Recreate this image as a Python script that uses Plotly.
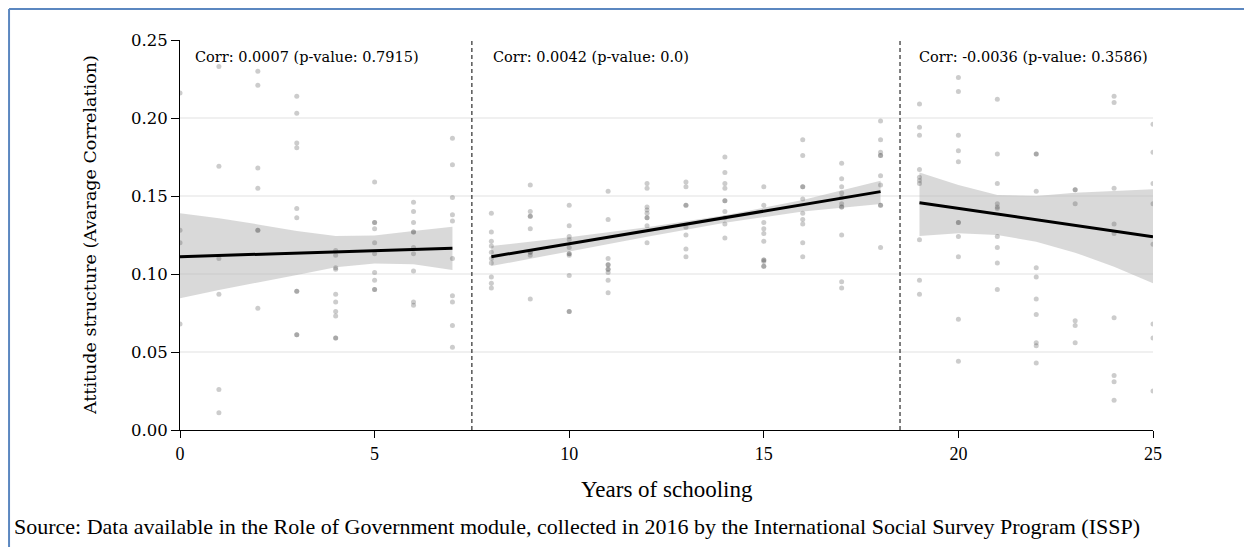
import plotly.graph_objects as go

# ---- scatter data: attitude structure per year of schooling ----
Y00 = [0.216, 0.128, 0.120, 0.068]
Y01 = [0.233, 0.169, 0.110, 0.087, 0.026, 0.011]
Y02 = [0.230, 0.221, 0.168, 0.155, 0.128, 0.128, 0.078]
Y03 = [0.214, 0.203, 0.184, 0.181, 0.142, 0.136, 0.089, 0.089, 0.061, 0.061]
Y04 = [0.115, 0.112, 0.104, 0.103, 0.087, 0.082, 0.076, 0.073, 0.059, 0.059]
Y05 = [0.159, 0.133, 0.133, 0.129, 0.120, 0.113, 0.101, 0.096, 0.090, 0.090]
Y06 = [0.146, 0.140, 0.133, 0.127, 0.127, 0.117, 0.113, 0.102, 0.082, 0.080]
Y07 = [0.187, 0.170, 0.149, 0.138, 0.134, 0.110, 0.086, 0.082, 0.067, 0.053]
Y08 = [0.139, 0.127, 0.121, 0.118, 0.114, 0.110, 0.107, 0.098, 0.094, 0.091]
Y09 = [0.157, 0.140, 0.137, 0.137, 0.129, 0.114, 0.114, 0.112, 0.084]
Y10 = [0.144, 0.131, 0.124, 0.122, 0.117, 0.113, 0.113, 0.112, 0.099, 0.076, 0.076]
Y11 = [0.153, 0.135, 0.110, 0.106, 0.106, 0.103, 0.103, 0.101, 0.096, 0.088]
Y12 = [0.158, 0.155, 0.143, 0.141, 0.139, 0.136, 0.136, 0.131, 0.120]
Y13 = [0.159, 0.156, 0.144, 0.144, 0.130, 0.125, 0.116, 0.111]
Y14 = [0.175, 0.165, 0.158, 0.155, 0.147, 0.147, 0.140, 0.136, 0.132, 0.123]
Y15 = [0.156, 0.144, 0.133, 0.129, 0.126, 0.121, 0.109, 0.109, 0.108, 0.105, 0.105]
Y16 = [0.186, 0.176, 0.156, 0.156, 0.148, 0.139, 0.135, 0.132, 0.120, 0.111]
Y17 = [0.171, 0.161, 0.156, 0.152, 0.149, 0.145, 0.143, 0.143, 0.125, 0.095, 0.091]
Y18 = [0.198, 0.186, 0.178, 0.176, 0.176, 0.163, 0.157, 0.144, 0.144, 0.117]
Y19 = [0.209, 0.194, 0.189, 0.167, 0.162, 0.160, 0.158, 0.122, 0.096, 0.087]
Y20 = [0.226, 0.217, 0.189, 0.179, 0.172, 0.133, 0.133, 0.124, 0.111, 0.071, 0.044]
Y21 = [0.212, 0.177, 0.158, 0.145, 0.143, 0.142, 0.124, 0.117, 0.107, 0.090]
Y22 = [0.177, 0.177, 0.153, 0.104, 0.098, 0.084, 0.074, 0.056, 0.054, 0.043]
Y23 = [0.154, 0.154, 0.145, 0.070, 0.067, 0.056]
Y24 = [0.214, 0.210, 0.155, 0.132, 0.126, 0.072, 0.035, 0.031, 0.019]
Y25 = [0.196, 0.178, 0.158, 0.145, 0.119, 0.068, 0.059, 0.025]

years = list(range(26))
year_values = [Y00, Y01, Y02, Y03, Y04, Y05, Y06, Y07, Y08, Y09, Y10, Y11, Y12,
               Y13, Y14, Y15, Y16, Y17, Y18, Y19, Y20, Y21, Y22, Y23, Y24, Y25]

# ---- regression fits (endpoints) ----
fit1_x = [0, 7]
fit1_y = [0.1111, 0.1165]
fit2_x = [8, 18]
fit2_y = [0.1111, 0.1528]
fit3_x = [19, 25]
fit3_y = [0.1457, 0.1239]

# ---- confidence bands ----
band1_x = [0, 1, 2, 3, 4, 5, 6, 7]
band1_hi = [0.1389, 0.1357, 0.1318, 0.1276, 0.1244, 0.1246, 0.1276, 0.1303]
band1_lo = [0.0844, 0.0897, 0.0947, 0.0994, 0.1043, 0.1068, 0.1062, 0.1026]
band2_x = [8, 10, 12, 13, 14, 16, 18]
band2_hi = [0.1179, 0.1235, 0.1299, 0.1338, 0.1376, 0.1474, 0.1598]
band2_lo = [0.1051, 0.1145, 0.1239, 0.1286, 0.1329, 0.1400, 0.1449]
band3_x = [19, 20, 21, 22, 23, 24, 25]
band3_hi = [0.1650, 0.1571, 0.1506, 0.1500, 0.1521, 0.1534, 0.1543]
band3_lo = [0.1244, 0.1261, 0.1250, 0.1207, 0.1137, 0.1047, 0.0940]

# ---- text ----
corr_labels = ["Corr: 0.0007 (p-value: 0.7915)",
               "Corr: 0.0042 (p-value: 0.0)",
               "Corr: -0.0036 (p-value: 0.3586)"]
corr_x = [0.33, 8.0, 18.94]
corr_y = 0.239
breaks = [7.5, 18.5]
x_ticks = [0, 5, 10, 15, 20, 25]
y_ticks = [0, 0.05, 0.10, 0.15, 0.20, 0.25]
y_ticktext = ["0.00", "0.05", "0.10", "0.15", "0.20", "0.25"]

WIDE = "DejaVu Serif, serif"
TIMES = "Liberation Serif, Times New Roman, serif"

fig = go.Figure()

for bx, hi, lo in [(band1_x, band1_hi, band1_lo),
                   (band2_x, band2_hi, band2_lo),
                   (band3_x, band3_hi, band3_lo)]:
    fig.add_trace(go.Scatter(x=bx + bx[::-1], y=hi + lo[::-1], fill="toself",
                             fillcolor="rgba(180,180,180,0.5)", line=dict(width=0),
                             mode="lines", hoverinfo="skip", showlegend=False))

px_, py_ = [], []
for yr, vals in zip(years, year_values):
    px_ += [yr] * len(vals)
    py_ += vals
fig.add_trace(go.Scatter(x=px_, y=py_, mode="markers",
                         marker=dict(size=5, color="rgba(85,85,85,0.3)"),
                         showlegend=False))

for fx, fy in [(fit1_x, fit1_y), (fit2_x, fit2_y), (fit3_x, fit3_y)]:
    fig.add_trace(go.Scatter(x=fx, y=fy, mode="lines",
                             line=dict(color="black", width=3), showlegend=False))

for b in breaks:
    fig.add_shape(type="line", x0=b, x1=b, y0=0, y1=0.25, xref="x", yref="y",
                  line=dict(color="black", width=1, dash="4px,3px"))

for lab, cx in zip(corr_labels, corr_x):
    fig.add_annotation(x=cx, y=corr_y, text=lab, showarrow=False, xanchor="left",
                       yanchor="middle", font=dict(family=WIDE, size=14.5, color="black"))

# axis titles
fig.add_annotation(xref="paper", yref="paper", x=-0.0925, y=0.5, textangle=-90,
                   xanchor="center", yanchor="middle", showarrow=False,
                   text="Attitude structure (Avarage Correlation)",
                   font=dict(family=WIDE, size=17.5, color="black"))
fig.add_annotation(xref="paper", yref="paper", x=0.5, y=-0.1513,
                   xanchor="center", yanchor="middle", showarrow=False,
                   text="Years of schooling",
                   font=dict(family=TIMES, size=23, color="black"))

fig.add_annotation(xref="paper", yref="paper", x=-0.1727, y=-0.2487, xanchor="left",
                   yanchor="middle", showarrow=False,
                   text="Source: Data available in the Role of Government module, collected in 2016 by the International Social Survey Program (ISSP)",
                   font=dict(family=TIMES, size=22, color="black"))

# figure border (top and left edges)
fig.add_shape(type="line", xref="paper", yref="paper", x0=-0.1757, x1=1.2, y0=1.0795, y1=1.0795,
              line=dict(color="#5b87c0", width=2))
fig.add_shape(type="line", xref="paper", yref="paper", x0=-0.1757, x1=-0.1757, y0=-0.4, y1=1.0795,
              line=dict(color="#5b87c0", width=2))

# margins compensate for the 8px default page margin
fig.update_layout(
    width=1252, height=547,
    margin=dict(l=172, r=107, t=32, b=125),
    plot_bgcolor="white", paper_bgcolor="white",
    font=dict(family=TIMES, size=15, color="black"),
    xaxis=dict(range=[0, 25], tickvals=x_ticks, showgrid=False,
               zeroline=False, showline=True, linecolor="black", linewidth=1,
               ticks="outside", ticklen=7, tickcolor="black",
               tickfont=dict(family=TIMES, size=18)),
    yaxis=dict(range=[0, 0.25], tickvals=y_ticks, ticktext=y_ticktext,
               showgrid=True, gridcolor="#f0f0f0", gridwidth=1.5,
               zeroline=False, showline=True, linecolor="black", linewidth=1,
               ticks="outside", ticklen=8, tickcolor="black",
               tickfont=dict(family=WIDE, size=16.5)),
)

fig.write_html("out.html")
